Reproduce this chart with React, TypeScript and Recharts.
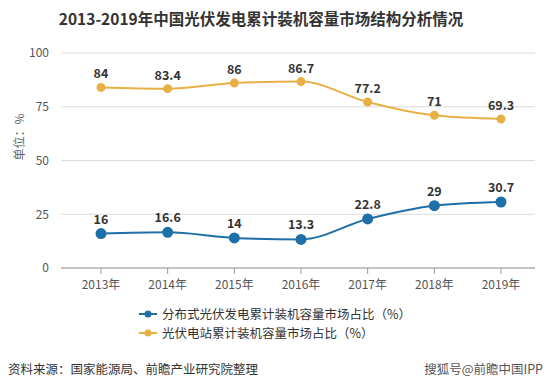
import { LineChart, Line, XAxis, YAxis, CartesianGrid, LabelList } from "recharts";

const years = ["2013年", "2014年", "2015年", "2016年", "2017年", "2018年", "2019年"];
const distributed = [16, 16.6, 14, 13.3, 22.8, 29, 30.7];
const station = [84, 83.4, 86, 86.7, 77.2, 71, 69.3];
const yTicks = [0, 25, 50, 75, 100];

const seriesNames = {
  distributed: "分布式光伏发电累计装机容量市场占比（%）",
  station: "光伏电站累计装机容量市场占比（%）",
};

const BLUE = "#1f6fa8";
const ORANGE = "#e7b045";
const FONT = "'Noto Sans CJK SC', 'Noto Sans', sans-serif";

const data = years.map((year, i) => ({
  year,
  distributed: distributed[i],
  station: station[i],
}));

const LegendBox = () => (
  <div
    style={{
      position: "absolute",
      left: 139,
      top: 304,
      fontFamily: FONT,
      fontSize: 12.5,
      color: "#333",
      lineHeight: "19px",
    }}
  >
    {[
      { name: seriesNames.distributed, color: BLUE },
      { name: seriesNames.station, color: ORANGE },
    ].map((item) => (
      <div key={item.name} style={{ display: "flex", alignItems: "center" }}>
        <svg width={18} height={10} style={{ marginRight: 5 }}>
          <line x1={0} y1={5} x2={18} y2={5} stroke={item.color} strokeWidth={2} />
          <circle cx={9} cy={5} r={3.5} fill={item.color} />
        </svg>
        <span>{item.name}</span>
      </div>
    ))}
  </div>
);

const App = () => {
  return (
    <div style={{ position: "absolute", left: 0, top: 0, width: 549, height: 387, background: "#fff", fontFamily: FONT }}>
      <div
        style={{
          position: "absolute",
          top: 7,
          left: 0,
          width: 522,
          textAlign: "center",
          fontSize: 15.5,
          fontWeight: "bold",
          color: "#333",
        }}
      >
        2013-2019年中国光伏发电累计装机容量市场结构分析情况
      </div>
      <LineChart
        width={549}
        height={387}
        data={data}
        margin={{ top: 53, right: 14, left: 0, bottom: 89 }}
      >
        <CartesianGrid vertical={false} stroke="#dcdcdc" />
        <XAxis
          dataKey="year"
          padding={{ left: 40, right: 34 }}
          axisLine={{ stroke: "#999" }}
          tickLine={{ stroke: "#999" }}
          tick={{ fill: "#555", fontSize: 12, fontFamily: FONT }}
          tickMargin={6}
        />
        <YAxis
          width={61}
          domain={[0, 100]}
          ticks={yTicks}
          axisLine={false}
          tickLine={false}
          tick={{ fill: "#555", fontSize: 12, fontFamily: FONT }}
          tickMargin={6}
          label={{
            value: "单位：%",
            angle: -90,
            position: "insideLeft",
            offset: 20,
            fill: "#666",
            fontSize: 12,
            fontFamily: FONT,
          }}
        />
        <Line
          type="monotone"
          dataKey="station"
          name={seriesNames.station}
          stroke={ORANGE}
          strokeWidth={2}
          dot={{ r: 3.5, fill: ORANGE, stroke: ORANGE }}
          isAnimationActive={false}
        >
          <LabelList dataKey="station" position="top" offset={9} fill="#333" fontSize={12.5} fontWeight="bold" />
        </Line>
        <Line
          type="monotone"
          dataKey="distributed"
          name={seriesNames.distributed}
          stroke={BLUE}
          strokeWidth={2}
          dot={{ r: 4.5, fill: BLUE, stroke: BLUE }}
          isAnimationActive={false}
        >
          <LabelList dataKey="distributed" position="top" offset={10} fill="#333" fontSize={12.5} fontWeight="bold" />
        </Line>
      </LineChart>
      <LegendBox />
      <div style={{ position: "absolute", left: 8, top: 359, fontSize: 12.5, color: "#333" }}>
        资料来源：国家能源局、前瞻产业研究院整理
      </div>
      <div style={{ position: "absolute", right: 6, top: 359, fontSize: 12.5, color: "#555" }}>
        搜狐号@前瞻中国IPP
      </div>
    </div>
  );
};

export default App;
